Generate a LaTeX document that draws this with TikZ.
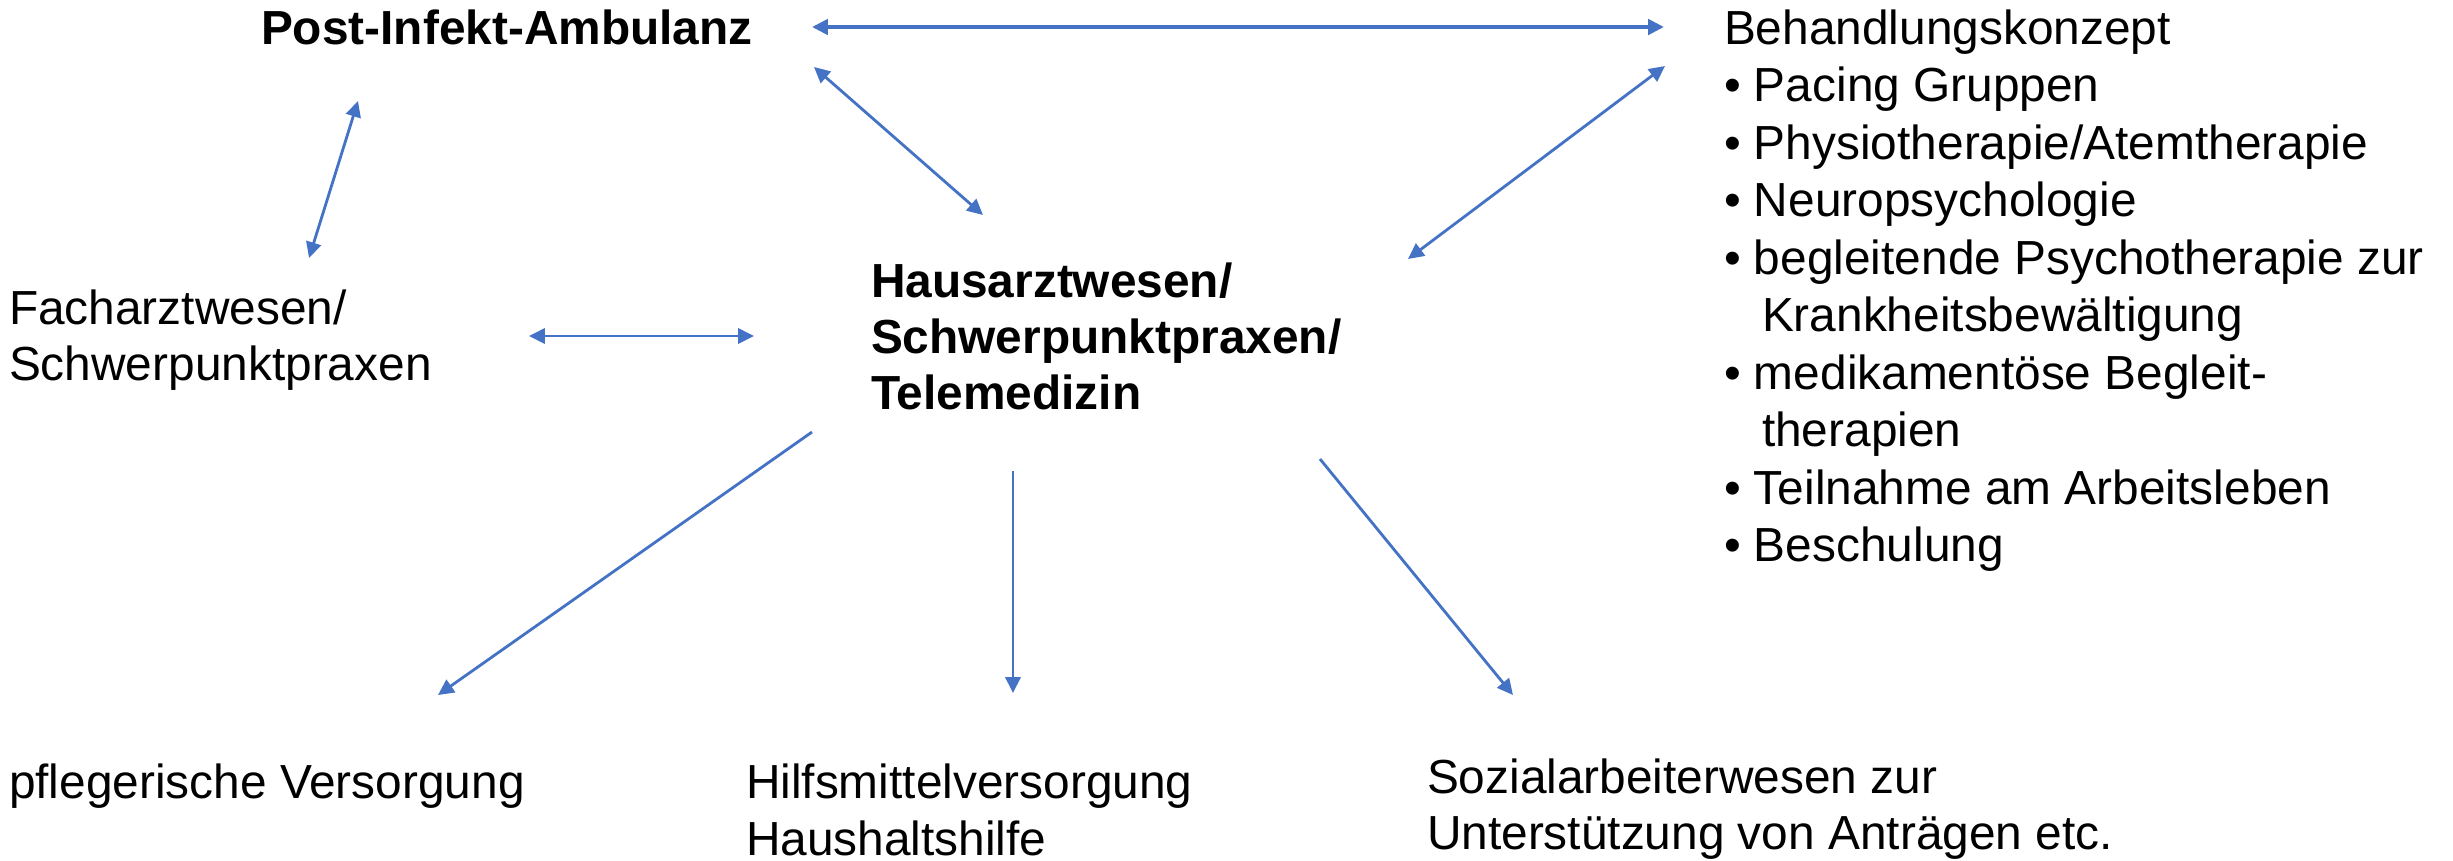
\documentclass[tikz,border=0pt]{standalone}
\usepackage{fontspec}
\setmainfont{Liberation Sans}
\usetikzlibrary{arrows.meta}
\definecolor{arrowblue}{HTML}{4472C4}
\begin{document}
\begin{tikzpicture}[x=0.01cm,y=-0.01cm,
  txt/.style={anchor=base west,inner sep=0pt,outer sep=0pt,font=\fontsize{13.6}{16}\selectfont},
  btxt/.style={txt,font=\fontsize{13.6}{16}\selectfont\bfseries},
  link/.style={draw=arrowblue,line width=0.8pt,arrows={Triangle[length=4.5pt,width=4.3pt]-Triangle[length=4.5pt,width=4.3pt]}},
  oneway/.style={draw=arrowblue,line width=0.8pt,arrows={-Triangle[length=4.5pt,width=4.3pt]}}]
\useasboundingbox (0,0) rectangle (2453,860);

% texts
\node[btxt] (pia) at (261,44) {Post-Infekt-Ambulanz};

\node[txt] (bk0) at (1724,44) {Behandlungskonzept};
\node[txt] (bk1) at (1724,101.5) {• Pacing Gruppen};
\node[txt] (bk2) at (1724,159) {• Physiotherapie/Atemtherapie};
\node[txt] (bk3) at (1724,216.5) {• Neuropsychologie};
\node[txt] (bk4) at (1724,274) {• begleitende Psychotherapie zur};
\node[txt] (bk5) at (1762,331.5) {Krankheitsbewältigung};
\node[txt] (bk6) at (1724,389) {• medikamentöse Begleit-};
\node[txt] (bk7) at (1762,446.5) {therapien};
\node[txt] (bk8) at (1724,504) {• Teilnahme am Arbeitsleben};
\node[txt] (bk9) at (1724,561.5) {• Beschulung};

\node[txt] (fa1) at (9,324) {Facharztwesen/};
\node[txt] (fa2) at (9,380) {Schwerpunktpraxen};

\node[btxt] (ha1) at (871,297) {Hausarztwesen/};
\node[btxt] (ha2) at (871,353) {Schwerpunktpraxen/};
\node[btxt] (ha3) at (871,409) {Telemedizin};

\node[txt] (pf) at (9,798) {pflegerische Versorgung};
\node[txt] (hi1) at (746,798) {Hilfsmittelversorgung};
\node[txt] (hi2) at (746,855) {Haushaltshilfe};
\node[txt] (so1) at (1427,793) {Sozialarbeiterwesen zur};
\node[txt] (so2) at (1427,849) {Unterstützung von Anträgen etc.};

% connector ends
\coordinate (pia-e) at (812,27);
\coordinate (bk-w) at (1664,27);
\coordinate (pia-se) at (814,67);
\coordinate (ha-nw) at (983,215);
\coordinate (pia-s) at (358,101);
\coordinate (fa-n) at (309,258);
\coordinate (bk-sw) at (1665,66);
\coordinate (ha-ne) at (1408,259);
\coordinate (fa-e) at (529,336);
\coordinate (ha-w) at (754,336);
\coordinate (ha-sw) at (812,432);
\coordinate (pf-n) at (438,695);
\coordinate (ha-s) at (1013,471);
\coordinate (hi-n) at (1013,693);
\coordinate (ha-se) at (1320,459);
\coordinate (so-n) at (1513,695);

% connectors
\draw[link,line width=1.2pt] (pia-e) -- (bk-w);
\draw[link] (pia-se) -- (ha-nw);
\draw[link] (pia-s) -- (fa-n);
\draw[link] (bk-sw) -- (ha-ne);
\draw[link] (fa-e) -- (ha-w);
\draw[oneway] (ha-sw) -- (pf-n);
\draw[oneway] (ha-s) -- (hi-n);
\draw[oneway] (ha-se) -- (so-n);
\end{tikzpicture}
\end{document}
